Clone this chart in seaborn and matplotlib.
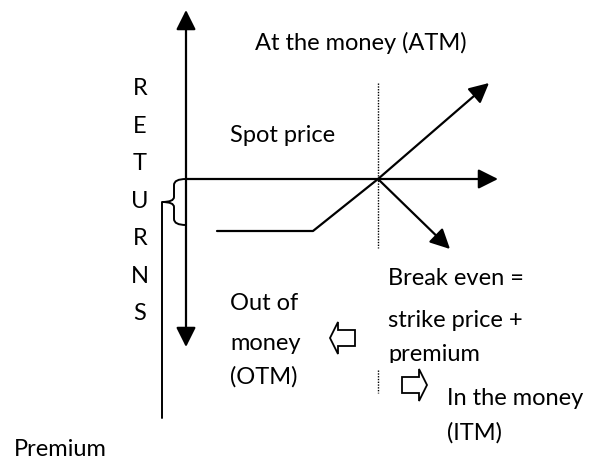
import matplotlib
matplotlib.use("Agg")
import matplotlib.pyplot as plt
import seaborn as sns
import pandas as pd
from matplotlib.path import Path
from matplotlib.patches import PathPatch, Polygon, Rectangle

sns.set_theme(style="white")
plt.rcParams['font.family'] = ['Lato', 'DejaVu Sans']

# --- diagram geometry (pixel space, y grows downward) ---
origin_x = 186
spot_y = 179
strike_x = 378

# return axis (double arrow)
axis_top = 10
axis_bottom = 347
# spot price axis
spot_x0 = 186
spot_x1 = 498

# call payoff line: flat loss, then rising through break even
payoff_x = [217, 313, 378, 489]
payoff_y = [231, 231, 179, 83]

# writer / short line going down right
short_x = [378, 450]
short_y = [179, 249]

# dotted strike line segments
dotted_top = [83, 248]
dotted_bottom = [370, 393]

# premium brace and leader
brace_top = 179
brace_bottom = 225
brace_tip = (162, 202)
premium_line_bottom = 418

returns_letters = list("RETURNS")
returns_baselines = [95, 133, 170, 208, 245, 283, 320]

labels = [
    ("At the money (ATM)", 255, 50),
    ("Spot price", 230, 142),
    ("Out of", 230, 310),
    ("money", 230, 350),
    ("(OTM)", 230, 384),
    ("Break even =", 388, 285),
    ("strike price +", 388, 327),
    ("In the money", 447, 405),
    ("(ITM)", 447, 440),
    ("Premium", 14, 456),
]
FS = 17

fig = plt.figure(figsize=(5.97, 4.61), dpi=100)
ax = fig.add_axes([0, 0, 1, 1])
ax.set_xlim(0, 597)
ax.set_ylim(461, 0)
ax.axis("off")

arrow_kw = dict(arrowstyle="-|>,head_length=0.6,head_width=0.3",
                mutation_scale=20, lw=1.6, color="black",
                shrinkA=0, shrinkB=0)

# return axis, arrow both ends
ax.annotate("", xy=(origin_x, axis_top), xytext=(origin_x, spot_y), arrowprops=arrow_kw)
ax.annotate("", xy=(origin_x, axis_bottom), xytext=(origin_x, spot_y), arrowprops=arrow_kw)

# spot price axis
ax.annotate("", xy=(spot_x1, spot_y), xytext=(spot_x0, spot_y), arrowprops=arrow_kw)

# payoff line
df = pd.DataFrame({"x": payoff_x[:-1], "y": payoff_y[:-1]})
sns.lineplot(data=df, x="x", y="y", sort=False, estimator=None, color="black", lw=1.6, ax=ax)
ax.annotate("", xy=(payoff_x[-1], payoff_y[-1]), xytext=(payoff_x[-2], payoff_y[-2]),
            arrowprops=arrow_kw)

# short line
ax.annotate("", xy=(short_x[1], short_y[1]), xytext=(short_x[0], short_y[0]),
            arrowprops=arrow_kw)

# dotted strike line
for seg in (dotted_top, dotted_bottom):
    ax.plot([strike_x, strike_x], seg, color="black", lw=1.0, ls=(0, (1, 1)))

# curly brace
bx = origin_x - 12
tx, ty = brace_tip
verts = [
    (origin_x, brace_top), (bx, brace_top), (bx, brace_top + 6),
    (bx, ty - 5),
    (bx, ty), (tx, ty),
    (bx, ty), (bx, ty + 5),
    (bx, brace_bottom - 6),
    (bx, brace_bottom), (origin_x, brace_bottom),
]
codes = [Path.MOVETO, Path.CURVE3, Path.CURVE3, Path.LINETO,
         Path.CURVE3, Path.CURVE3, Path.CURVE3, Path.CURVE3,
         Path.LINETO, Path.CURVE3, Path.CURVE3]
ax.add_patch(PathPatch(Path(verts, codes), fill=False, lw=1.4, color="black"))

# premium leader line
ax.plot([tx, tx], [ty, premium_line_bottom], color="black", lw=1.4)


def block_arrow(x_tail, x_tip, yc):
    d = 1 if x_tip > x_tail else -1
    neck = x_tip - d * 8
    pts = [(x_tail, yc - 8), (neck, yc - 8), (neck, yc - 16), (x_tip, yc),
           (neck, yc + 16), (neck, yc + 8), (x_tail, yc + 8)]
    ax.add_patch(Polygon(pts, closed=True, facecolor="white", edgecolor="black", lw=1.3))


block_arrow(355, 330, 338)
block_arrow(402, 427, 385)

# texts
for letter, yb in zip(returns_letters, returns_baselines):
    ax.text(140, yb, letter, fontsize=FS, ha="center", va="baseline", color="black")
for txt, x, yb in labels:
    ax.text(x, yb, txt, fontsize=FS, ha="left", va="baseline", color="black")

# "premium" is cut off just below its baseline in the original
t = ax.text(388, 361, "premium", fontsize=FS, ha="left", va="baseline", color="black")
t.set_clip_path(Rectangle((380, 330), 160, 33, transform=ax.transData))
t.set_clip_on(True)

fig.savefig("out.png", dpi=100)
